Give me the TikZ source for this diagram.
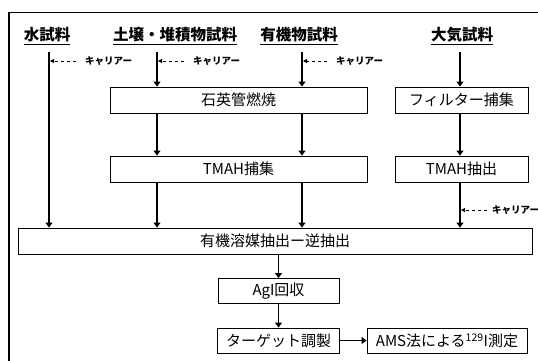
\documentclass[tikz,border=0pt]{standalone}
\usepackage{fontspec}
\setmainfont{Noto Sans CJK JP}
\usetikzlibrary{arrows.meta}
\begin{document}
\begin{tikzpicture}[x=1pt,y=-1pt,
 box/.style={draw=black,line width=0.9pt,inner sep=0pt,font=\fontsize{15}{17}\selectfont},
 title/.style={font=\fontsize{15.5}{17}\selectfont\bfseries,inner sep=0pt,anchor=base},
 flow/.style={line width=1.8pt,-{Triangle[width=7pt,length=5pt]}},
 carr/.style={line width=0.8pt,dash pattern=on 3.5pt off 2.5pt,shorten >=1pt,-{Triangle[width=4pt,length=4pt]}},
 clab/.style={font=\fontsize{9.5}{10}\selectfont\bfseries,anchor=west,inner sep=0pt}]
\clip (0,0) rectangle (538,361);
\fill[white] (0,0) rectangle (538,361);
\draw[line width=1.3pt] (9,361) -- (9,12.5) -- (538,12.5);
% titles
\node[title] (tw) at (47,41) {\underline{水試料}};
\node[title] (ts) at (175,41) {\underline{土壌・堆積物試料}};
\node[title] (to) at (299,41) {\underline{有機物試料}};
\node[title] (ta) at (462,41) {\underline{大気試料}};
% boxes
\node[box,minimum width=257pt,minimum height=26pt] (quartz) at (238.5,100) {石英管燃焼};
\node[box,minimum width=133pt,minimum height=26pt] (filter) at (461.5,100) {フィルター捕集};
\node[box,minimum width=257pt,minimum height=26pt] (tmahc) at (238.5,169) {TMAH捕集};
\node[box,minimum width=133pt,minimum height=26pt] (tmahe) at (461.5,169) {TMAH抽出};
\node[box,minimum width=514pt,minimum height=26pt] (big) at (275,241) {有機溶媒抽出ー逆抽出};
\node[box,minimum width=121pt,minimum height=25pt] (agi) at (278.5,291) {AgI回収};
\node[box,minimum width=122pt,minimum height=25pt] (tgt) at (278.5,340.5) {ターゲット調製};
\node[box,minimum width=160pt,minimum height=25pt] (ams) at (447,340.5) {AMS法による\textsuperscript{129}I測定};
% flow lines
\coordinate (ws) at (49,52);
\coordinate (ss) at (157,52);
\coordinate (os) at (302,52);
\coordinate (as) at (460,52);
\draw[flow] (ws) -- (ws |- big.north);
\draw[flow] (ss) -- (ss |- quartz.north);
\draw[flow] (os) -- (os |- quartz.north);
\draw[flow] (as) -- (as |- filter.north);
\draw[flow] (ss |- quartz.south) -- (ss |- tmahc.north);
\draw[flow] (os |- quartz.south) -- (os |- tmahc.north);
\draw[flow] (as |- filter.south) -- (as |- tmahe.north);
\draw[flow] (ss |- tmahc.south) -- (ss |- big.north);
\draw[flow] (os |- tmahc.south) -- (os |- big.north);
\draw[flow] (as |- tmahe.south) -- (as |- big.north);
\draw[flow] (agi.north |- big.south) -- (agi.north);
\draw[flow] (agi.south) -- (tgt.north);
\draw[flow] (tgt.east) -- (ams.west);
% carrier labels
\node[clab] (k1) at (85,61) {キャリアー};
\node[clab] (k2) at (193,61) {キャリアー};
\node[clab] (k3) at (336,61) {キャリアー};
\node[clab] (k4) at (492,210) {キャリアー};
\draw[carr] ([xshift=-9pt]k1.west) -- (ws |- k1.west);
\draw[carr] ([xshift=-9pt]k2.west) -- (ss |- k2.west);
\draw[carr] ([xshift=-9pt]k3.west) -- (os |- k3.west);
\draw[carr] ([xshift=-5pt]k4.west) -- (as |- k4.west);
\end{tikzpicture}
\end{document}
